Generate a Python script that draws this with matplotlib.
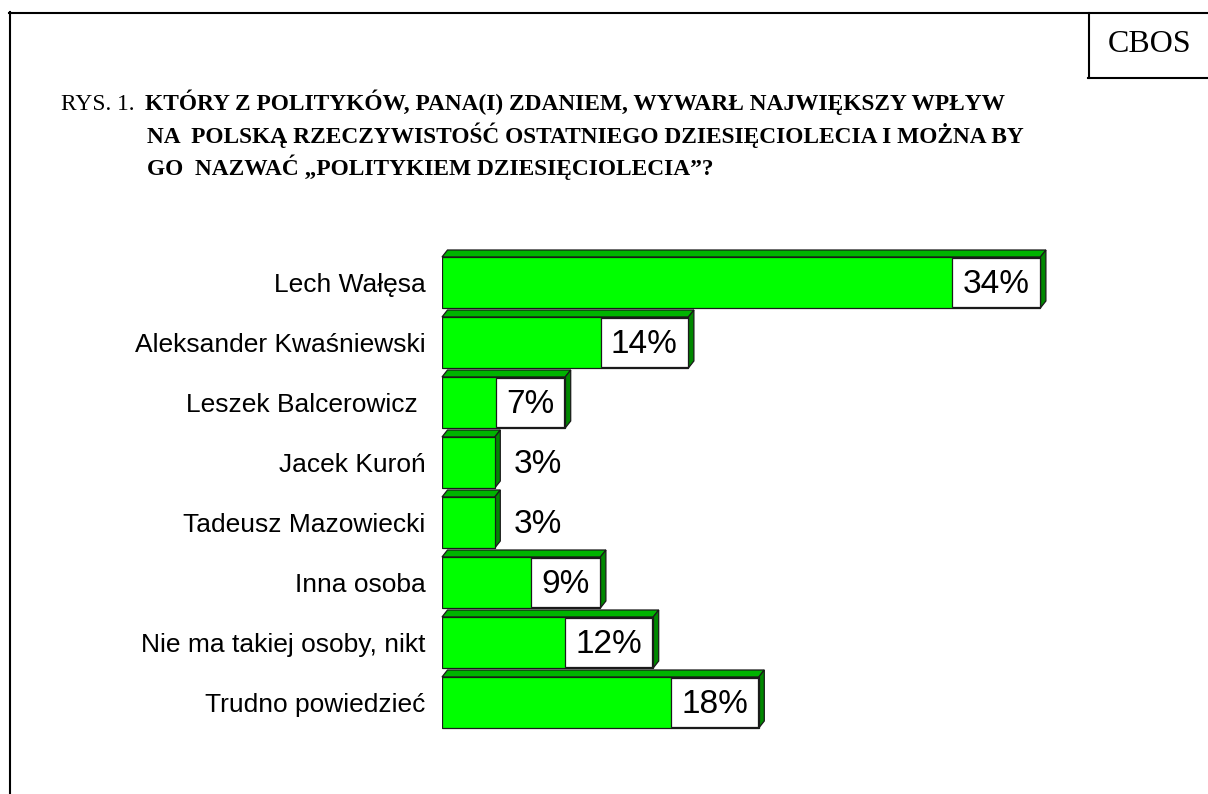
import matplotlib
matplotlib.use("Agg")
import matplotlib.pyplot as plt
from matplotlib.patches import Polygon, Rectangle
from matplotlib.lines import Line2D

categories = ["Lech Wałęsa", "Aleksander Kwaśniewski", "Leszek Balcerowicz ",
              "Jacek Kuroń", "Tadeusz Mazowiecki", "Inna osoba",
              "Nie ma takiej osoby, nikt", "Trudno powiedzieć"]
values = [34, 14, 7, 3, 3, 9, 12, 18]
value_labels = ["34%", "14%", "7%", "3%", "3%", "9%", "12%", "18%"]

title_prefix = "RYS. 1."
title_lines = ["KTÓRY Z POLITYKÓW, PANA(I) ZDANIEM, WYWARŁ NAJWIĘKSZY WPŁYW",
               "NA  POLSKĄ RZECZYWISTOŚĆ OSTATNIEGO DZIESIĘCIOLECIA I MOŻNA BY",
               "GO  NAZWAĆ „POLITYKIEM DZIESIĘCIOLECIA”?"]
source = "CBOS"

W, H = 1208, 794
fig = plt.figure(figsize=(W / 100, H / 100), dpi=100)
fig.patch.set_facecolor("white")

def fx(px):
    return px / W

def fy(py):
    return 1 - py / H

# frame
fig.add_artist(Line2D([fx(9), fx(1210)], [fy(13), fy(13)], color="black", lw=1.5))
fig.add_artist(Line2D([fx(10), fx(10)], [fy(12), fy(800)], color="black", lw=1.5))
# CBOS box
fig.add_artist(Line2D([fx(1089), fx(1089)], [fy(13), fy(78)], color="black", lw=1.5))
fig.add_artist(Line2D([fx(1088), fx(1210)], [fy(77.5), fy(77.5)], color="black", lw=1.5))
fig.text(fx(1150), fy(45), source, family="Liberation Serif", fontsize=23,
         ha="center", va="center")

# title
serif = "Liberation Serif"
tfs = 16.85
fig.text(fx(61), fy(110), title_prefix, family=serif, fontsize=tfs, ha="left",
         va="baseline")
fig.text(fx(145), fy(110), title_lines[0], family=serif, fontsize=tfs,
         fontweight="bold", ha="left", va="baseline")
fig.text(fx(147), fy(142.5), title_lines[1], family=serif, fontsize=tfs,
         fontweight="bold", ha="left", va="baseline")
fig.text(fx(147), fy(175), title_lines[2], family=serif, fontsize=tfs,
         fontweight="bold", ha="left", va="baseline")

# bar axes
px_per_unit = 17.6
ax_left_px, ax_right_px = 442, 1208
ax_top_px, ax_bot_px = 252.5, 732.5
ax = fig.add_axes([fx(ax_left_px), fy(ax_bot_px),
                   (ax_right_px - ax_left_px) / W, (ax_bot_px - ax_top_px) / H])
ax.set_xlim(0, (ax_right_px - ax_left_px) / px_per_unit)
ax.set_ylim(len(categories) - 0.5, -0.5)
for s in ax.spines.values():
    s.set_visible(False)
ax.set_xticks([])
ax.patch.set_alpha(0)

bh = 0.85
dx = 5.5 / px_per_unit
dy = 7 / ((ax_bot_px - ax_top_px) / len(categories))
ys = list(range(len(categories)))

ax.barh(ys, values, height=bh, color="#00FF00", edgecolor="#1a1a1a",
        linewidth=0.9, zorder=3)
for y, v in zip(ys, values):
    yt, yb = y - bh / 2, y + bh / 2
    top = Polygon([(0, yt), (v, yt), (v + dx, yt - dy), (dx, yt - dy)],
                  closed=True, facecolor="#00B400", edgecolor="#1a1a1a",
                  linewidth=0.9, zorder=2, clip_on=False)
    side = Polygon([(v, yt), (v + dx, yt - dy), (v + dx, yb - dy), (v, yb)],
                   closed=True, facecolor="#008800", edgecolor="#1a1a1a",
                   linewidth=0.9, zorder=2, clip_on=False)
    ax.add_patch(top)
    ax.add_patch(side)

ax.set_yticks(ys)
ax.set_yticklabels(categories, family="Liberation Sans", fontsize=19)
ax.tick_params(axis="y", length=0, pad=12)

fig.canvas.draw()
renderer = fig.canvas.get_renderer()
for y, v, lab in zip(ys, values, value_labels):
    t = ax.text(0, y, lab, family="Liberation Sans", fontsize=24,
                ha="center", va="center", zorder=6)
    tw_px = t.get_window_extent(renderer).width
    box_w = (tw_px + 21) / px_per_unit
    if v > box_w:
        ax.add_patch(Rectangle((v - box_w, y - bh / 2 + 0.02), box_w - 0.05,
                               bh - 0.04, facecolor="white", edgecolor="#1a1a1a",
                               linewidth=0.9, zorder=5))
        t.set_position((v - box_w / 2 - 0.02, y + 0.03))
    else:
        t.set_ha("left")
        t.set_position((v + 19 / px_per_unit, y + 0.03))

fig.savefig("out.png", dpi=100)
